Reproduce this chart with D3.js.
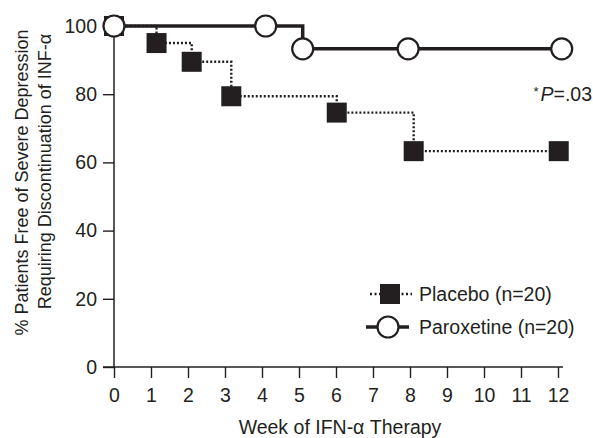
<!DOCTYPE html>
<html>
<head>
<meta charset="utf-8">
<script src="https://cdn.jsdelivr.net/npm/d3@7"></script>
<style>
   body { margin: 0; background: #fff; }
   svg { display: block; font-family: "Liberation Sans", Arial, Helvetica, sans-serif; }
   .tick text { font-size: 19.5px; fill: #231f20; }
   .tick line { stroke: #231f20; stroke-width: 1.4; }
</style>
</head>
<body>
<svg id="chart"></svg>
<script>
// Week of each event and % free of depression
const placeboWeeks = [0, 1.15, 2.1, 3.17, 6.02, 8.1, 12.02];
const placeboPct = [100, 95, 89.5, 79.4, 74.6, 63.3, 63.3];
const paroxWeeks = [0, 4.1, 5.1, 7.95, 12.1];
const paroxPct = [100, 100, 93.3, 93.3, 93.3];
const xTicks = d3.range(0, 13);
const yTicks = [0, 20, 40, 60, 80, 100];

const width = 593;
const height = 438;
const margin = { top: 26, right: 35, bottom: 71, left: 114 };
const ink = "#231f20";
const fs = "19.5px";

const svg = d3.select("#chart").attr("width", width).attr("height", height);

const x = d3.scaleLinear().domain([0, 12]).range([margin.left, width - margin.right]);
const y = d3.scaleLinear().domain([0, 100]).range([height - margin.bottom, margin.top]);

// Axes
const xAxis = svg
   .append("g")
   .attr("transform", `translate(0,${y(0)})`)
   .call(d3.axisBottom(x).tickValues(xTicks).tickSize(11).tickPadding(10));
xAxis.select(".domain").remove();

const yAxis = svg
   .append("g")
   .attr("transform", `translate(${x(0)},0)`)
   .call(d3.axisLeft(y).tickValues(yTicks).tickSize(11).tickPadding(6));
yAxis.select(".domain").remove();

// axis lines (x axis runs out past both ends)
svg.append("line")
   .attr("x1", x(0) - 11).attr("x2", x(12) + 5)
   .attr("y1", y(0)).attr("y2", y(0))
   .attr("stroke", ink).attr("stroke-width", 1.5);
svg.append("line")
   .attr("x1", x(0)).attr("x2", x(0))
   .attr("y1", y(0)).attr("y2", y(100))
   .attr("stroke", ink).attr("stroke-width", 1.5);

// Axis titles
svg.append("text")
   .attr("x", (x(0) + x(12)) / 2 + 4)
   .attr("y", 434)
   .attr("text-anchor", "middle")
   .style("font-size", fs)
   .style("fill", ink)
   .text("Week of IFN-α Therapy");

const yTitle = svg
   .append("text")
   .attr("transform", `translate(28,${(y(0) + y(100)) / 2 - 14}) rotate(-90)`)
   .attr("text-anchor", "middle")
   .style("font-size", "18px")
   .style("fill", ink);
yTitle.append("tspan").attr("x", 0).attr("dy", 0).text("% Patients Free of Severe Depression");
yTitle.append("tspan").attr("x", 11).attr("dy", 23).text("Requiring Discontinuation of INF-α");

// Placebo: dotted step line with filled squares
const placebo = placeboWeeks.map((w, i) => ({ w, p: placeboPct[i] }));
const parox = paroxWeeks.map((w, i) => ({ w, p: paroxPct[i] }));

const stepLine = d3.line().x((d) => x(d.w)).y((d) => y(d.p)).curve(d3.curveStepAfter);

svg.append("path")
   .datum(placebo)
   .attr("d", stepLine)
   .attr("fill", "none")
   .attr("stroke", ink)
   .attr("stroke-width", 2.4)
   .attr("stroke-dasharray", "2,2");

const sq = 20;
svg.selectAll(".sq")
   .data(placebo)
   .enter()
   .append("rect")
   .attr("class", "sq")
   .attr("x", (d) => x(d.w) - sq / 2)
   .attr("y", (d) => y(d.p) - sq / 2)
   .attr("width", sq)
   .attr("height", sq)
   .attr("fill", ink);

// Paroxetine: solid step line with open circles
svg.append("path")
   .datum(parox)
   .attr("d", stepLine)
   .attr("fill", "none")
   .attr("stroke", ink)
   .attr("stroke-width", 3.5);

svg.selectAll(".circ")
   .data(parox)
   .enter()
   .append("circle")
   .attr("class", "circ")
   .attr("cx", (d) => x(d.w))
   .attr("cy", (d) => y(d.p))
   .attr("r", 10.5)
   .attr("fill", "#fff")
   .attr("stroke", ink)
   .attr("stroke-width", 2.2);

// P value
const pText = svg
   .append("text")
   .attr("x", 592)
   .attr("y", 101)
   .attr("text-anchor", "end")
   .style("font-size", fs)
   .style("fill", ink);
pText.append("tspan").attr("dy", -5).style("font-size", "13px").text("*");
pText.append("tspan").attr("dx", 2).attr("dy", 5).style("font-style", "italic").text("P");
pText.append("tspan").text("=.03");

// Legend
const legend = svg.append("g");
const legItems = [
   { label: "Placebo (n=20)", type: "placebo", cy: 294 },
   { label: "Paroxetine (n=20)", type: "parox", cy: 327 },
];
legItems.forEach((it) => {
   const g = legend.append("g");
   if (it.type === "placebo") {
      g.append("line")
         .attr("x1", 370).attr("x2", 412)
         .attr("y1", it.cy).attr("y2", it.cy)
         .attr("stroke", ink).attr("stroke-width", 2.4)
         .attr("stroke-dasharray", "2,2.5");
      g.append("rect")
         .attr("x", 390 - sq / 2).attr("y", it.cy - sq / 2)
         .attr("width", sq).attr("height", sq)
         .attr("fill", ink);
   } else {
      g.append("line")
         .attr("x1", 366).attr("x2", 409)
         .attr("y1", it.cy).attr("y2", it.cy)
         .attr("stroke", ink).attr("stroke-width", 3.5);
      g.append("circle")
         .attr("cx", 388).attr("cy", it.cy).attr("r", 10.5)
         .attr("fill", "#fff").attr("stroke", ink).attr("stroke-width", 2.2);
   }
   g.append("text")
      .attr("x", 419)
      .attr("y", it.cy + 7)
      .style("font-size", fs)
      .style("fill", ink)
      .text(it.label);
});
</script>
</body>
</html>
